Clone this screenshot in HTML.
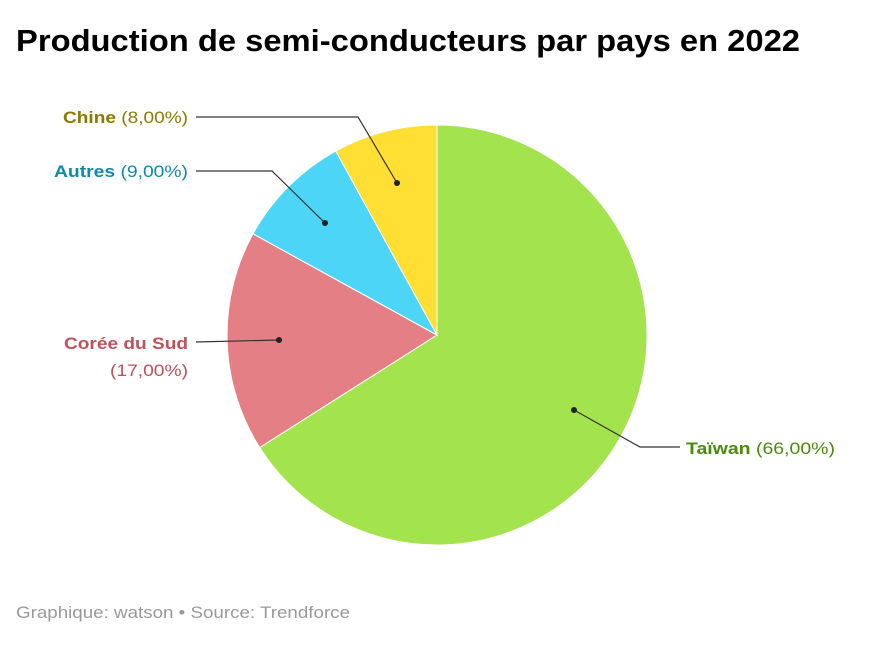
<!DOCTYPE html>
<html><head><meta charset="utf-8"><style>
html,body{margin:0;padding:0;background:#fff;}
body{width:873px;height:641px;overflow:hidden;font-family:"Liberation Sans",sans-serif;}
</style></head><body>
<svg width="873" height="641" viewBox="0 0 873 641" xmlns="http://www.w3.org/2000/svg" font-family="Liberation Sans, sans-serif">
<text x="16" y="51" font-size="31" font-weight="bold" fill="#000" textLength="784" lengthAdjust="spacingAndGlyphs">Production de semi-conducteurs par pays en 2022</text>
<g stroke="#fff" stroke-width="1">
<path d="M437,335 L437,125 A210,210 0 1,1 259.7,447.5 Z" fill="#a3e34d"/>
<path d="M437,335 L259.7,447.5 A210,210 0 0,1 253,233.8 Z" fill="#e57f86"/>
<path d="M437,335 L253,233.8 A210,210 0 0,1 335.8,151 Z" fill="#4dd5f7"/>
<path d="M437,335 L335.8,151 A210,210 0 0,1 437,125 Z" fill="#ffdf33"/>
</g>
<g stroke="#333" stroke-width="1.2" fill="none">
<polyline points="397,183 358,117 196,117"/>
<polyline points="325,223 272,171 196,171"/>
<polyline points="279,340 196,342"/>
<polyline points="574,410 640,447 680,447"/>
</g>
<g fill="#222">
<circle cx="397" cy="183" r="3"/><circle cx="325" cy="223" r="3"/>
<circle cx="279" cy="340" r="3"/><circle cx="574" cy="410" r="3"/>
</g>
<g font-size="17">
<text x="63" y="123" fill="#8a7a00" textLength="125" lengthAdjust="spacingAndGlyphs"><tspan font-weight="bold">Chine</tspan> (8,00%)</text>
<text x="54" y="177" fill="#0e8aa8" textLength="134" lengthAdjust="spacingAndGlyphs"><tspan font-weight="bold">Autres</tspan> (9,00%)</text>
<text x="64" y="349" fill="#c0505a" font-weight="bold" textLength="124" lengthAdjust="spacingAndGlyphs">Corée du Sud</text>
<text x="110" y="376" fill="#c0505a" textLength="78" lengthAdjust="spacingAndGlyphs">(17,00%)</text>
<text x="686" y="454" fill="#4a8a0f" textLength="149" lengthAdjust="spacingAndGlyphs"><tspan font-weight="bold">Taïwan</tspan> (66,00%)</text>
</g>
<text x="16" y="618" font-size="17" fill="#999" textLength="334" lengthAdjust="spacingAndGlyphs">Graphique: watson • Source: Trendforce</text>
</svg>
</body></html>
